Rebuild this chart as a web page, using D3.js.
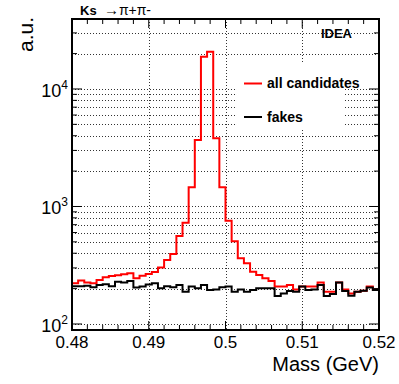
<!DOCTYPE html>
<html>
<head>
<meta charset="utf-8">
<script src="https://cdn.jsdelivr.net/npm/d3@7"></script>
<style>
body { margin: 0; background: #fff; }
svg { display: block; font-family: "Liberation Sans", Arial, sans-serif; }
</style>
</head>
<body>
<svg width="399" height="384"></svg>
<script>
// histogram binning
const binLow = 0.48;
const binWidth = 0.0008;

// all candidates (red)
const allCandidates = [
	222, 234, 226, 222, 237, 250, 256, 260, 265, 270,
	245, 258, 266, 277, 303, 350, 394, 561, 728, 1455,
	3680, 18800, 20700, 3800, 1455, 757, 505, 362, 329, 279,
	261, 245, 232, 208, 208, 215, 197, 208, 208, 208,
	225, 188, 188, 225, 197, 182, 188, 192, 208, 197
];

// fakes (black)
const fakes = [
	210, 210, 212, 205, 215, 218, 210, 229, 226, 232,
	204, 208, 217, 222, 201, 210, 205, 215, 188, 208,
	201, 215, 195, 197, 205, 208, 188, 197, 188, 195,
	201, 201, 201, 173, 182, 191, 188, 208, 195, 197,
	215, 173, 180, 225, 191, 174, 188, 192, 204, 195
];

const xTicks = [0.48, 0.49, 0.5, 0.51, 0.52];
const xTickLabels = ["0.48", "0.49", "0.5", "0.51", "0.52"];
const yDecades = [100, 1000, 10000];
const yDecadeExp = ["2", "3", "4"];

const svg = d3.select("svg");

const mLeft = 72, mRight = 379, mTop = 19, mBottom = 330;

const x = d3.scaleLinear().domain([0.48, 0.52]).range([mLeft, mRight]);
const y = d3.scaleLog().domain([88.9, 39400]).range([mBottom, mTop]);

// y ticks: every integer multiple inside each decade
const yMinor = [];
yDecades.forEach((d) => {
	for (let m = 1; m <= 9; m++) {
		const v = d * m;
		if (v > y.domain()[0] * 1.02 && v < y.domain()[1]) yMinor.push(v);
	}
});
const xMinor = d3.range(0.48, 0.5201, 0.002);

const grid = svg.append("g")
	.attr("stroke", "#333")
	.attr("stroke-width", 1)
	.attr("stroke-dasharray", "1,2");

grid.selectAll("line.h")
	.data(yMinor)
	.enter()
	.append("line")
	.attr("x1", mLeft)
	.attr("x2", mRight)
	.attr("y1", (d) => Math.round(y(d)) + 0.5)
	.attr("y2", (d) => Math.round(y(d)) + 0.5);

grid.selectAll("line.v")
	.data(xTicks.slice(1, -1))
	.enter()
	.append("line")
	.attr("x1", (d) => Math.round(x(d)) + 0.5)
	.attr("x2", (d) => Math.round(x(d)) + 0.5)
	.attr("y1", mTop)
	.attr("y2", mBottom);

// histogram step paths
function stepPath(values) {
	const pts = [];
	values.forEach((v, i) => {
		const x0 = x(binLow + i * binWidth);
		const x1 = x(binLow + (i + 1) * binWidth);
		pts.push([x0, y(v)], [x1, y(v)]);
	});
	return d3.line()(pts);
}

svg.append("path")
	.attr("d", stepPath(allCandidates))
	.attr("fill", "none")
	.attr("stroke", "#ff0000")
	.attr("stroke-width", 2);

svg.append("path")
	.attr("d", stepPath(fakes))
	.attr("fill", "none")
	.attr("stroke", "#000")
	.attr("stroke-width", 2);

// legend
const legend = svg.append("g");
legend.append("rect")
	.attr("x", 237).attr("y", 62)
	.attr("width", 106).attr("height", 68)
	.attr("fill", "#fff");

const legendItems = [
	{ label: "all candidates", color: "#ff0000", yy: 83.5 },
	{ label: "fakes", color: "#000", yy: 117 }
];
legendItems.forEach((d) => {
	legend.append("line")
		.attr("x1", 244).attr("x2", 262)
		.attr("y1", d.yy).attr("y2", d.yy)
		.attr("stroke", d.color).attr("stroke-width", 2);
	legend.append("text")
		.attr("x", 267).attr("y", d.yy + 4.5)
		.attr("font-size", 14).attr("font-weight", "bold")
		.text(d.label);
});

// ticks
const tickG = svg.append("g").attr("stroke", "#000").attr("stroke-width", 1);
xMinor.forEach((v) => {
	const isMajor = xTicks.some((t) => Math.abs(t - v) < 1e-6);
	const len = isMajor ? 9 : 5;
	const xx = x(v);
	tickG.append("line").attr("x1", xx).attr("x2", xx).attr("y1", mBottom).attr("y2", mBottom - len);
	tickG.append("line").attr("x1", xx).attr("x2", xx).attr("y1", mTop).attr("y2", mTop + len);
});
yMinor.forEach((v) => {
	const isMajor = yDecades.includes(v);
	const len = isMajor ? 10 : 5;
	const yy = y(v);
	tickG.append("line").attr("x1", mLeft).attr("x2", mLeft + len).attr("y1", yy).attr("y2", yy);
	tickG.append("line").attr("x1", mRight).attr("x2", mRight - len).attr("y1", yy).attr("y2", yy);
});

// frame
svg.append("rect")
	.attr("x", mLeft).attr("y", mTop)
	.attr("width", mRight - mLeft).attr("height", mBottom - mTop)
	.attr("fill", "none")
	.attr("stroke", "#000")
	.attr("stroke-width", 2);

// tick labels
svg.selectAll("text.xl")
	.data(xTicks)
	.enter()
	.append("text")
	.attr("x", (d) => x(d))
	.attr("y", 347.5)
	.attr("text-anchor", "middle")
	.attr("font-size", 17)
	.text((d, i) => xTickLabels[i]);

yDecades.forEach((v, i) => {
	const t = svg.append("text")
		.attr("x", 68)
		.attr("y", y(v) + 8)
		.attr("text-anchor", "end")
		.attr("font-size", 18)
		.text("10");
	t.append("tspan")
		.attr("dy", -8)
		.attr("font-size", 12)
		.text(yDecadeExp[i]);
});

// axis titles
svg.append("text")
	.attr("x", mRight)
	.attr("y", 371)
	.attr("text-anchor", "end")
	.attr("font-size", 20)
	.text("Mass (GeV)");

svg.append("text")
	.attr("transform", "translate(33,17) rotate(-90)")
	.attr("text-anchor", "end")
	.attr("font-size", 21)
	.text("a.u.");

// title
const title = svg.append("text").attr("y", 15).attr("font-size", 13);
title.append("tspan").attr("x", 80).attr("font-weight", "bold").text("Ks");
title.append("tspan").attr("x", 104).attr("font-size", 15).text("\u2192");
title.append("tspan").attr("x", 119).attr("font-size", 14)
	.attr("textLength", 32).attr("lengthAdjust", "spacing")
	.text("\u03c0+\u03c0-");

svg.append("text")
	.attr("x", 352)
	.attr("y", 38)
	.attr("text-anchor", "end")
	.attr("font-size", 13)
	.attr("font-weight", "bold")
	.text("IDEA");
</script>
</body>
</html>
